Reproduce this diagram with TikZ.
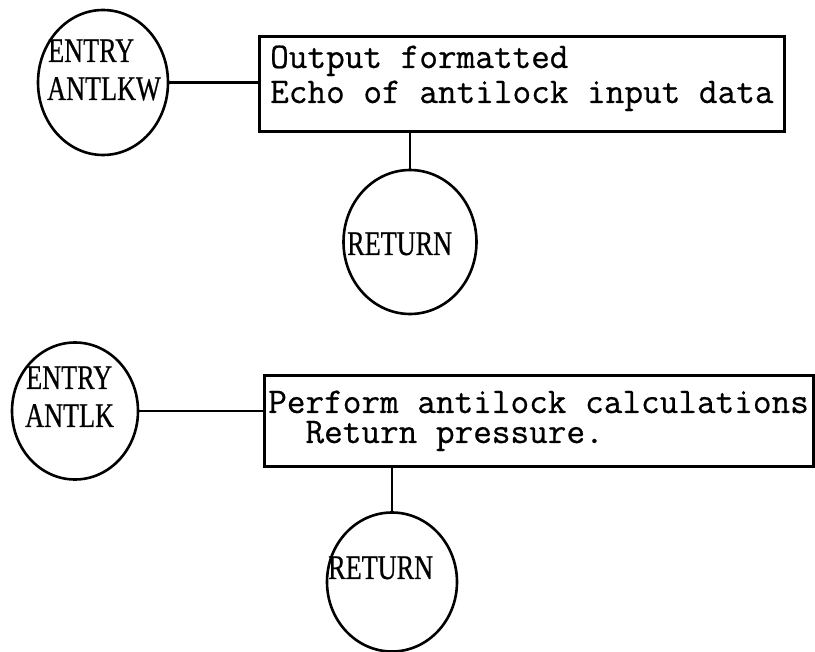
\documentclass[tikz,border=0pt]{standalone}
\usepackage{fontspec}
\usetikzlibrary{shapes.geometric}
% typewriter face for the process boxes, slightly heavier than the default
\setmonofont[FakeBold=0.6]{Latin Modern Mono}
% narrow serif used for the labels inside the terminal circles
\newfontfamily\circfont[FakeStretch=0.76,FakeBold=0.6]{Liberation Serif}
\tikzset{
  flowline/.style={line width=2.8pt},
  terminal/.style={draw, ellipse, line width=2.6pt, inner sep=0pt},
  procbox/.style={draw, rectangle, line width=2.6pt, inner sep=0pt, anchor=north west},
  boxtext/.style={anchor=base west, inner sep=0pt, align=left},
  circtext/.style={anchor=base west, inner sep=0pt, align=left, font=\circfont\fontsize{34.5}{38}\selectfont},
}
\begin{document}
\begin{tikzpicture}[x=1pt,y=-1pt]
\useasboundingbox (0,0) rectangle (815,652);

% ---- routine ANTLKW ----
\node[terminal, minimum width=130pt, minimum height=145pt] (c1) at (103,82.5) {};
\node[circtext] (c1t) at (47,100) {\hspace*{1pt}ENTRY\\ANTLKW};

\node[procbox, minimum width=525pt, minimum height=95pt] (box1) at (258,35) {};
\node[boxtext, font=\ttfamily\fontsize{36.2}{35}\selectfont] (box1t) at (270,103)
  {Output formatted\\Echo of antilock input data};

\node[terminal, minimum width=133pt, minimum height=144pt] (ret1) at (410,242) {};
\node[circtext] (ret1t) at (347,255) {RETURN};

\draw[flowline] (c1.east) -- (c1.east -| box1.west);
\draw[flowline] (ret1.north |- box1.south) -- (ret1.north);

% ---- routine ANTLK ----
\node[terminal, minimum width=126pt, minimum height=137pt] (c2) at (75,411) {};
\node[circtext] (c2t) at (25,427) {\hspace*{1pt}ENTRY\\ANTLK};

\node[procbox, minimum width=549pt, minimum height=91pt] (box2) at (263,374) {};
\node[boxtext, font=\ttfamily\fontsize{36.2}{30}\selectfont] (box2t) at (268,443)
  {Perform antilock calculations\\\phantom{Pe}Return pressure.};

\node[terminal, minimum width=130pt, minimum height=139pt] (ret2) at (392,582) {};
\node[circtext] (ret2t) at (328,579) {RETURN};

\draw[flowline] (c2.east) -- (c2.east -| box2.west);
\draw[flowline] (ret2.north |- box2.south) -- (ret2.north);
\end{tikzpicture}
\end{document}
